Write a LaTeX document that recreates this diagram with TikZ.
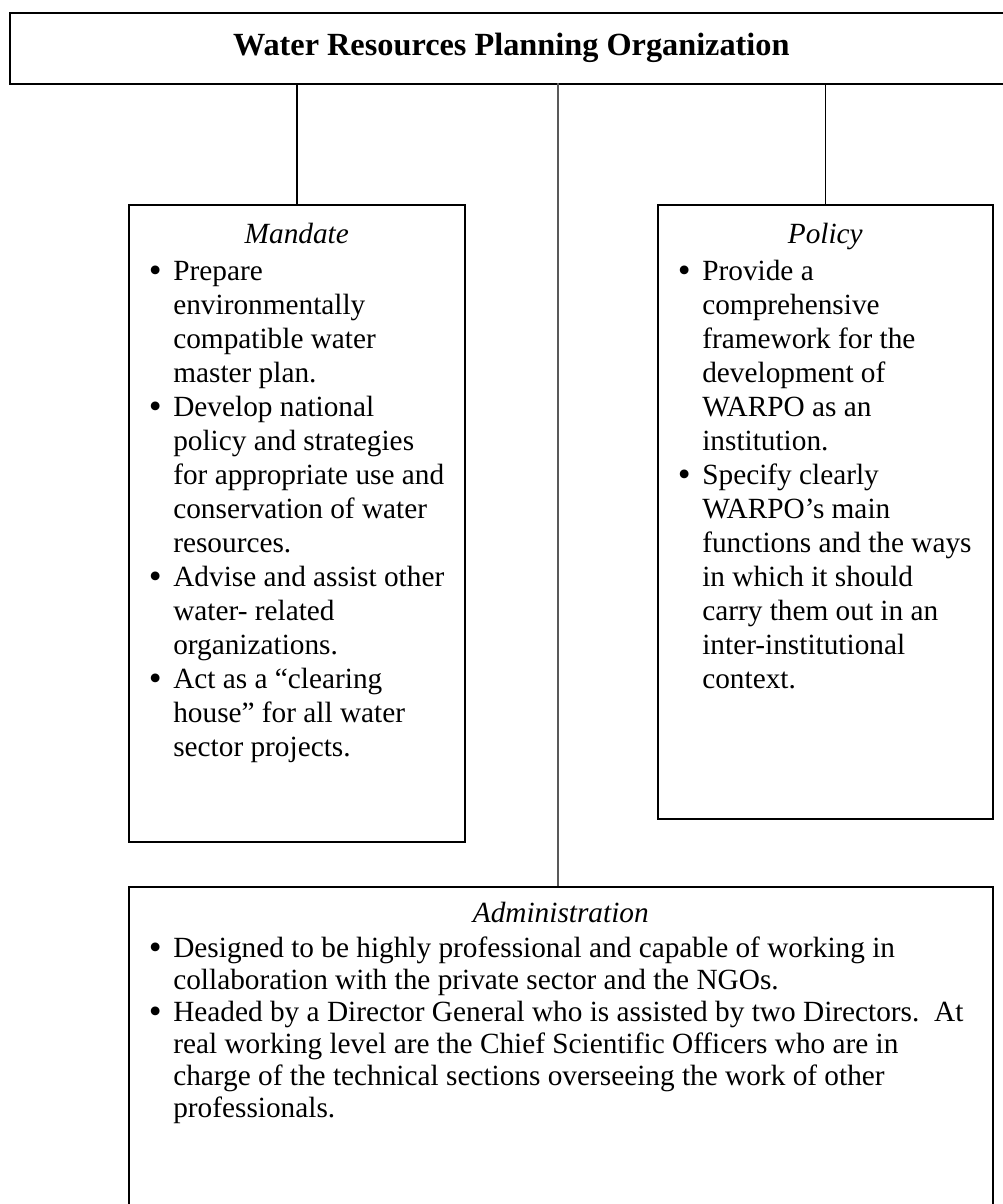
\documentclass[tikz,border=0pt]{standalone}
\usepackage{fontspec}
\setmainfont{Liberation Serif}
\usetikzlibrary{positioning}

% bullet line and continuation line inside the boxes
\newcommand{\bul}{\hspace*{20pt}\makebox[24.5pt][l]{\raisebox{-1.5pt}{\scalebox{1.25}{\textbullet}}}}
\newcommand{\cnt}{\hspace*{44.5pt}}
\newcommand{\boxhead}[2]{\rule{0pt}{#2}\makebox[\linewidth][c]{\textit{#1}}\par\vspace{3pt}}

\begin{document}
\begin{tikzpicture}[
        x=1pt, y=-1pt,
        orgbox/.style={draw, line width=1.6pt, inner sep=0pt, anchor=north west},
        link/.style={draw, line width=1.4pt},
        midlink/.style={draw=black!65, line width=1.1pt},
        every node/.style={font=\fontsize{29.3}{34}\selectfont},
    ]
    \useasboundingbox (0,0) rectangle (1002,1204);

    \node[orgbox, minimum width=1003pt, minimum height=71pt](org) at (9,12)
        {\fontsize{32.3}{38}\selectfont\bfseries Water Resources Planning Organization};

    \node[orgbox](mandate) at (128,204){\parbox[c][637pt][t]{336pt}{%
        \boxhead{Mandate}{39pt}
        \bul Prepare\\
        \cnt environmentally\\
        \cnt compatible water\\
        \cnt master plan.\\
        \bul Develop national\\
        \cnt policy and strategies\\
        \cnt for appropriate use and\\
        \cnt conservation of water\\
        \cnt resources.\\
        \bul Advise and assist other\\
        \cnt water- related\\
        \cnt organizations.\\
        \bul Act as a “clearing\\
        \cnt house” for all water\\
        \cnt sector projects.\par}};

    \node[orgbox](policy) at (657,204){\parbox[c][614pt][t]{335pt}{%
        \boxhead{Policy}{39pt}
        \bul Provide a\\
        \cnt comprehensive\\
        \cnt framework for the\\
        \cnt development of\\
        \cnt WARPO as an\\
        \cnt institution.\\
        \bul Specify clearly\\
        \cnt WARPO’s main\\
        \cnt functions and the ways\\
        \cnt in which it should\\
        \cnt carry them out in an\\
        \cnt inter-institutional\\
        \cnt context.\par}};

    \node[orgbox](admin) at (128,886){\parbox[c][344pt][t]{864pt}{%
        \fontsize{29.3}{32}\selectfont\frenchspacing
        \boxhead{Administration}{36pt}
        \bul Designed to be highly professional and capable of working in\\
        \cnt collaboration with the private sector and the NGOs.\\
        \bul Headed by a Director General who is assisted by two Directors.~ At\\
        \cnt real working level are the Chief Scientific Officers who are in\\
        \cnt charge of the technical sections overseeing the work of other\\
        \cnt professionals.\par}};

    \coordinate (mid) at (558,83);
    \draw[link] (mandate.north) -- (mandate.north |- org.south);
    \draw[link] (policy.north) -- (policy.north |- org.south);
    \draw[midlink] (mid) -- (mid |- admin.north);
\end{tikzpicture}
\end{document}
